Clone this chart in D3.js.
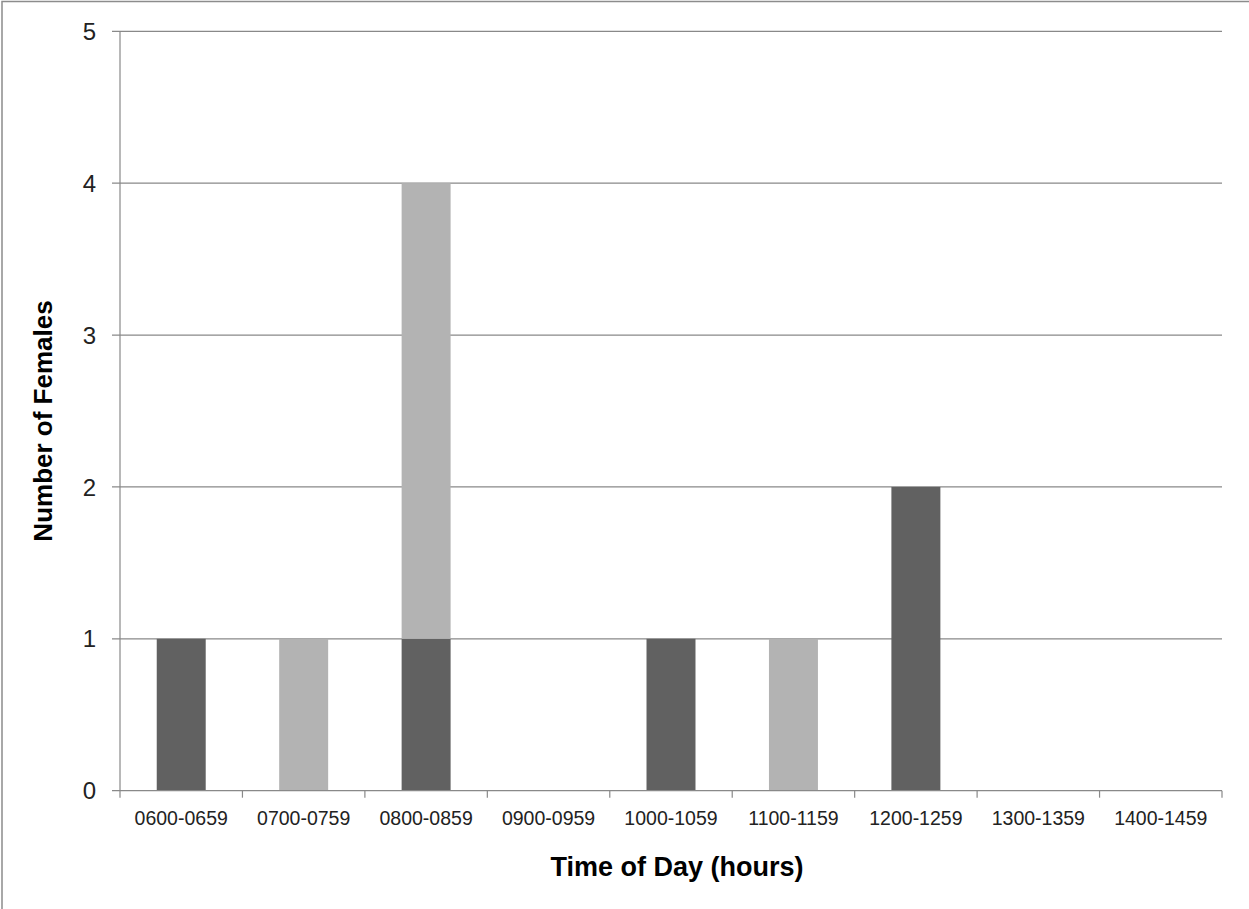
<!DOCTYPE html>
<html>
<head>
<meta charset="utf-8">
<script src="https://cdn.jsdelivr.net/npm/d3@7"></script>
<style>
html,body{margin:0;padding:0;background:#fff;}
svg{display:block;}
</style>
</head>
<body>
<script>
const categories = ["0600-0659","0700-0759","0800-0859","0900-0959","1000-1059","1100-1159","1200-1259","1300-1359","1400-1459"];
const darkSeries = [1,0,1,0,1,0,2,0,0];
const lightSeries = [0,1,3,0,0,1,0,0,0];
const yTicks = [0,1,2,3,4,5];
const seriesKeys = ["dark","light"];
const seriesColors = {dark:"#616161", light:"#b3b3b3"};

const W = 1249, H = 909;
const mLeft = 120, mRight = 1222, mTop = 31.3, mBottom = 790.7;

const svg = d3.select("body").append("svg").attr("width", W).attr("height", H);

// outer chart border (only left/top visible in reference)
svg.append("rect").attr("x",2).attr("y",1.5).attr("width",1400).attr("height",1100)
  .attr("fill","none").attr("stroke","#8c8c8c").attr("stroke-width",1.5);

const x = d3.scaleBand().domain(categories).range([mLeft,mRight]).paddingInner(0.6).paddingOuter(0.3);
const xb = d3.scaleBand().domain(categories).range([mLeft,mRight]).padding(0);
const y = d3.scaleLinear().domain([0,5]).range([mBottom,mTop]);

// gridlines + y ticks
const gy = svg.append("g");
gy.selectAll("line").data(yTicks.filter(d=>d>0)).join("line")
  .attr("x1", mLeft-8).attr("x2", mRight)
  .attr("y1", d=>y(d)).attr("y2", d=>y(d))
  .attr("stroke","#898989").attr("stroke-width",1.2);

// data
const table = categories.map((c,i)=>({cat:c, dark:darkSeries[i], light:lightSeries[i]}));
const stacked = d3.stack().keys(seriesKeys)(table);
svg.append("g").selectAll("g").data(stacked).join("g")
  .attr("fill", d=>seriesColors[d.key])
  .selectAll("rect").data(d=>d.filter(s=>s[1]-s[0]>0)).join("rect")
  .attr("x", d=>x(d.data.cat))
  .attr("width", x.bandwidth())
  .attr("y", d=>y(d[1]))
  .attr("height", d=>y(d[0])-y(d[1]));

// y axis line
svg.append("line").attr("x1",mLeft).attr("x2",mLeft).attr("y1",mTop).attr("y2",mBottom)
  .attr("stroke","#898989").attr("stroke-width",1.2);

// x axis line with ticks
svg.append("line").attr("x1",mLeft-8).attr("x2",mRight).attr("y1",mBottom).attr("y2",mBottom)
  .attr("stroke","#898989").attr("stroke-width",1.2);
const bounds = categories.map(c=>xb(c)).concat([mRight]);
svg.append("g").selectAll("line").data(bounds).join("line")
  .attr("x1",d=>d).attr("x2",d=>d).attr("y1",mBottom).attr("y2",mBottom+7)
  .attr("stroke","#898989").attr("stroke-width",1.2);

// y tick labels
svg.append("g").selectAll("text").data(yTicks).join("text")
  .attr("x", 96).attr("y", d=>y(d)).attr("dy","0.36em")
  .attr("text-anchor","end")
  .attr("font-family","Liberation Sans, Arial, sans-serif")
  .attr("font-size",24).attr("fill","#222")
  .text(d=>d);

// x tick labels
svg.append("g").selectAll("text").data(categories).join("text")
  .attr("x", d=>xb(d)+xb.bandwidth()/2).attr("y", 825)
  .attr("text-anchor","middle")
  .attr("font-family","Liberation Sans, Arial, sans-serif")
  .attr("font-size",19.5).attr("fill","#222")
  .text(d=>d);

// axis titles
svg.append("text").attr("x",677).attr("y",876)
  .attr("text-anchor","middle")
  .attr("font-family","Liberation Sans, Arial, sans-serif")
  .attr("font-weight","bold").attr("font-size",27).attr("fill","#000")
  .text("Time of Day (hours)");
svg.append("text").attr("transform","translate(52,421) rotate(-90)")
  .attr("text-anchor","middle")
  .attr("font-family","Liberation Sans, Arial, sans-serif")
  .attr("font-weight","bold").attr("font-size",26).attr("fill","#000")
  .text("Number of Females");
</script>
</body>
</html>
